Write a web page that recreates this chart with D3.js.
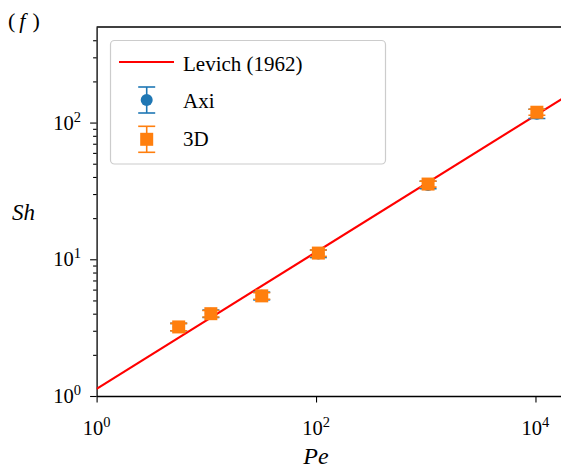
<!DOCTYPE html>
<html><head><meta charset="utf-8">
<script src="https://cdn.jsdelivr.net/npm/d3@7"></script>
<style>
body{margin:0;background:#fff;}
</style></head>
<body><svg id="c" width="561" height="470" font-family="'Liberation Serif', 'Times New Roman', Times, serif"></svg>
<script>
// ---- data ----
const pe = [5.6, 11, 32, 105, 1050, 10300];
const sh3D = [3.2, 4.0, 5.4, 11.1, 35.5, 119];
const err3D = [0.2, 0.22, 0.3, 0.6, 1.8, 6];
const shAxi = [3.2, 4.0, 5.4, 11.0, 35.0, 116];
const errAxi = [0.2, 0.25, 0.35, 0.7, 2.2, 9];
const levichPe = [1, 20000];
const levichSh = [1.128, 159.6];
const xTicks = [1, 100, 10000];
const xTickExp = ["0", "2", "4"];
const yTicks = [1, 10, 100];
const yTickExp = ["0", "1", "2"];
const legendLabels = ["Levich (1962)", "Axi", "3D"];

const FONT = "'Liberation Serif', 'Times New Roman', Times, serif";
const blue = "#1f77b4", orange = "#ff7f0e", red = "#ff0000";
const svg = d3.select("#c");
const L = 96.6, T = 27, B = 396;
const x = d3.scaleLog().domain([1, 20000]).range([L, 568.5]);
const y = d3.scaleLog().domain([1, 500]).range([B, T]);

// minor y ticks
const yMinor = [];
for (let d = 1; d <= 100; d *= 10) for (let k = 2; k <= 9; k++) if (d * k < 500) yMinor.push(d * k);

const gx = svg.append("g").attr("transform", `translate(0,${B})`)
  .call(d3.axisBottom(x).tickValues(xTicks).tickFormat(() => "").tickSize(6.5).tickSizeOuter(0));
const gy = svg.append("g").attr("transform", `translate(${L},0)`)
  .call(d3.axisLeft(y).tickValues(yTicks).tickFormat(() => "").tickSize(6.5).tickSizeOuter(0));
const gym = svg.append("g").attr("transform", `translate(${L},0)`)
  .call(d3.axisLeft(y).tickValues(yMinor).tickFormat(() => "").tickSize(3.5).tickSizeOuter(0));
[gx, gy, gym].forEach(g => {
  g.selectAll("line").attr("stroke", "#000").attr("stroke-width", 1.1);
  g.select(".domain").attr("stroke", "#000").attr("stroke-width", 1.3);
});
gym.select(".domain").remove();
// top and right spines
svg.append("line").attr("x1", L).attr("x2", 568.5).attr("y1", T).attr("y2", T).attr("stroke", "#000").attr("stroke-width", 1.3);
svg.append("line").attr("x1", 568.5).attr("x2", 568.5).attr("y1", T).attr("y2", B).attr("stroke", "#000").attr("stroke-width", 1.3);

function txt(g) { return g.append("text").attr("font-family", FONT).attr("fill", "#000"); }

// tick labels
xTicks.forEach((v, i) => {
  const t = txt(svg).attr("x", x(v)).attr("y", 435).attr("text-anchor", "middle").attr("font-size", 20.5);
  t.append("tspan").text("10");
  t.append("tspan").attr("dy", -8).attr("font-size", 14.5).text(xTickExp[i]);
});
yTicks.forEach((v, i) => {
  const t = txt(svg).attr("x", 81).attr("y", y(v) + 7).attr("text-anchor", "end").attr("font-size", 20.5);
  t.append("tspan").text("10");
  t.append("tspan").attr("dy", -8).attr("font-size", 14.5).text(yTickExp[i]);
});

// axis labels
txt(svg).attr("x", 316).attr("y", 464).attr("text-anchor", "middle").attr("font-size", 24).attr("font-style", "italic").text("Pe");
txt(svg).attr("x", 12).attr("y", 220).attr("font-size", 23).attr("font-style", "italic").text("Sh");
const pl = txt(svg).attr("x", 8).attr("y", 28).attr("font-size", 22);
pl.append("tspan").text("(");
pl.append("tspan").attr("dx", 4).attr("font-style", "italic").text("f");
pl.append("tspan").attr("dx", 7).text(")");

// clip
svg.append("clipPath").attr("id", "pc").append("rect").attr("x", L).attr("y", T).attr("width", 568.5 - L).attr("height", B - T);
const plot = svg.append("g").attr("clip-path", "url(#pc)");

// Levich line
plot.append("path").datum(levichPe.map((p, i) => [p, levichSh[i]]))
  .attr("d", d3.line().x(d => x(d[0])).y(d => y(d[1])))
  .attr("fill", "none").attr("stroke", red).attr("stroke-width", 2.2);

function errbars(g, xs, ys, es, color, cap) {
  xs.forEach((p, i) => {
    const cx = x(p), y1 = y(ys[i] - es[i]), y2 = y(ys[i] + es[i]);
    g.append("line").attr("x1", cx).attr("x2", cx).attr("y1", y1).attr("y2", y2).attr("stroke", color).attr("stroke-width", 1.6);
    [y1, y2].forEach(yy => g.append("line").attr("x1", cx - cap).attr("x2", cx + cap).attr("y1", yy).attr("y2", yy).attr("stroke", color).attr("stroke-width", 1.6));
  });
}
// Axi
errbars(plot, pe, shAxi, errAxi, blue, 8.5);
pe.forEach((p, i) => plot.append("circle").attr("cx", x(p)).attr("cy", y(shAxi[i])).attr("r", 6).attr("fill", blue));
// 3D
errbars(plot, pe, sh3D, err3D, orange, 8.5);
pe.forEach((p, i) => plot.append("rect").attr("x", x(p) - 6.5).attr("y", y(sh3D[i]) - 6.5).attr("width", 13).attr("height", 13).attr("fill", orange));

// legend
const lg = svg.append("g");
lg.append("rect").attr("x", 110.5).attr("y", 40.5).attr("width", 275).attr("height", 123.5).attr("rx", 4)
  .attr("fill", "#fff").attr("fill-opacity", 0.8).attr("stroke", "#ccc").attr("stroke-width", 1.2);
lg.append("line").attr("x1", 119).attr("x2", 174).attr("y1", 62).attr("y2", 62).attr("stroke", red).attr("stroke-width", 2.2);
function legErr(cx, cy, color) {
  lg.append("line").attr("x1", cx).attr("x2", cx).attr("y1", cy - 13).attr("y2", cy + 13).attr("stroke", color).attr("stroke-width", 1.6);
  [cy - 13, cy + 13].forEach(yy => lg.append("line").attr("x1", cx - 8.5).attr("x2", cx + 8.5).attr("y1", yy).attr("y2", yy).attr("stroke", color).attr("stroke-width", 1.6));
}
legErr(146.7, 100, blue);
lg.append("circle").attr("cx", 146.7).attr("cy", 100).attr("r", 6).attr("fill", blue);
legErr(146.7, 139.3, orange);
lg.append("rect").attr("x", 140.2).attr("y", 132.8).attr("width", 13).attr("height", 13).attr("fill", orange);
[70.5, 107.5, 145.5].forEach((yy, i) =>
  txt(lg).attr("x", 183).attr("y", yy).attr("font-size", 21).text(legendLabels[i]));
</script></body></html>
